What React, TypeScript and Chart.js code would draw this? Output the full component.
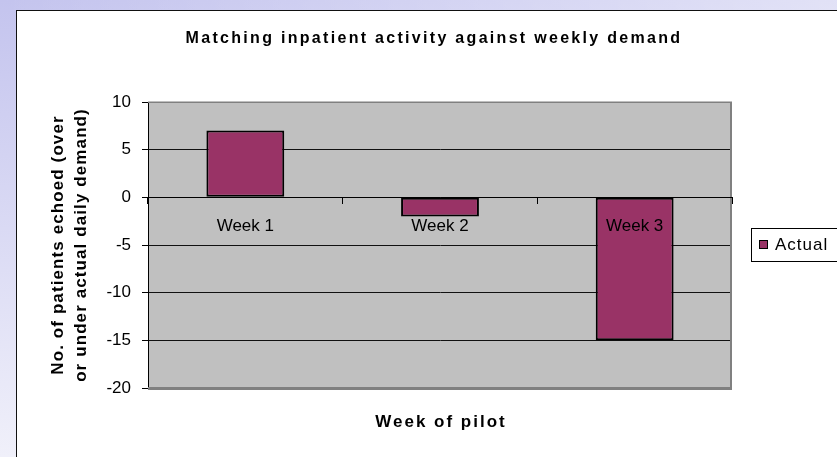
import React, { useEffect, useRef } from 'react';
import { Chart, registerables } from 'chart.js';

Chart.register(...registerables);

const categories = ['Week 1', 'Week 2', 'Week 3'];
const actualValues = [7, -2, -15];
const seriesLabel = 'Actual';
const yTickValues = [10, 5, 0, -5, -10, -15, -20];
const chartTitle = 'Matching inpatient activity against weekly demand';
const xAxisTitle = 'Week of pilot';
const yAxisTitle = ['No. of patients echoed (over', 'or under actual daily demand)'];

const FONT = 'Arial, "Liberation Sans", sans-serif';
const BAR_COLOR = '#993366';

const excelPlugin = {
  id: 'excelLook',
  beforeDraw(chart: any) {
    const { ctx, chartArea: a } = chart;
    ctx.save();
    ctx.fillStyle = '#C0C0C0';
    ctx.fillRect(a.left, a.top, a.right - a.left, a.bottom - a.top);
    ctx.restore();
  },
  beforeDatasetsDraw(chart: any) {
    const { ctx, chartArea: a } = chart;
    ctx.save();
    ctx.fillStyle = '#808080';
    ctx.fillRect(a.right - 2, a.top, 2, a.bottom - a.top);
    ctx.fillRect(a.left, a.bottom - 1, a.right - a.left, 3);
    ctx.fillRect(a.left, a.top - 0.5, a.right - a.left, 1.5);
    ctx.restore();
  },
  afterDraw(chart: any) {
    const { ctx, chartArea: a } = chart;
    ctx.save();
    ctx.fillStyle = '#000';
    // main title
    ctx.font = `bold 16px ${FONT}`;
    (ctx as any).letterSpacing = '2.3px';
    ctx.textAlign = 'center';
    ctx.textBaseline = 'alphabetic';
    ctx.fillText(chartTitle, 434, 43);
    // x axis title
    (ctx as any).letterSpacing = '2px';
    ctx.font = `bold 17px ${FONT}`;
    ctx.fillText(xAxisTitle, (a.left + a.right) / 2 + 1, 427);
    // y axis title
    (ctx as any).letterSpacing = '1.1px';
    ctx.textBaseline = 'middle';
    const cy = (a.top + a.bottom) / 2;
    const xs = [58, 81];
    yAxisTitle.forEach((line, i) => {
      ctx.save();
      ctx.translate(xs[i], cy);
      ctx.rotate(-Math.PI / 2);
      ctx.fillText(line, 0, 0);
      ctx.restore();
    });
    // legend
    (ctx as any).letterSpacing = '1px';
    ctx.lineWidth = 1;
    ctx.strokeStyle = '#000';
    ctx.fillStyle = '#fff';
    ctx.fillRect(751.5, 228.5, 100, 33);
    ctx.strokeRect(751.5, 228.5, 100, 33);
    const ds = chart.data.datasets[0];
    ctx.fillStyle = ds.backgroundColor;
    ctx.fillRect(759.5, 240.5, 8, 8);
    ctx.strokeRect(759.5, 240.5, 8, 8);
    ctx.fillStyle = '#000';
    ctx.font = `17px ${FONT}`;
    ctx.textAlign = 'left';
    ctx.textBaseline = 'middle';
    ctx.fillText(ds.label, 775, 245);
    ctx.restore();
  },
};

export default function App() {
  const canvasRef = useRef<HTMLCanvasElement | null>(null);

  useEffect(() => {
    const canvas = canvasRef.current;
    if (!canvas) return;
    const chart = new Chart(canvas, {
      type: 'bar',
      data: {
        labels: categories,
        datasets: [
          {
            label: seriesLabel,
            data: actualValues,
            backgroundColor: BAR_COLOR,
            borderColor: '#000',
            borderWidth: 2,
            borderSkipped: false,
            barPercentage: 0.4,
            categoryPercentage: 1,
          },
        ],
      },
      options: {
        responsive: false,
        maintainAspectRatio: false,
        animation: false,
        devicePixelRatio: 1,
        events: [],
        layout: { padding: { top: 102, bottom: 69, left: 0, right: 105 } },
        plugins: {
          legend: { display: false },
          title: { display: false },
          tooltip: { enabled: false },
        },
        scales: {
          x: {
            position: { y: 0 } as any,
            offset: true,
            grid: {
              offset: true,
              drawOnChartArea: false,
              drawTicks: true,
              tickLength: 6,
              tickColor: '#000',
              lineWidth: 1,
              z: 1,
            },
            border: { display: true, color: '#000', width: 1, z: 1 },
            ticks: {
              color: '#000',
              font: { family: FONT, size: 17 },
              padding: 13,
              maxRotation: 0,
              autoSkip: false,
              z: 2,
            },
          },
          y: {
            min: -20,
            max: 10,
            afterBuildTicks: (s: any) => {
              s.ticks = yTickValues.map((v) => ({ value: v }));
            },
            afterFit: (s: any) => {
              s.width = 148;
            },
            ticks: {
              color: '#000',
              font: { family: FONT, size: 17 },
              padding: 11,
            },
            grid: {
              color: (c: any) =>
                c.tick && (c.tick.value === 10 || c.tick.value === -20) ? '#808080' : '#111',
              tickColor: '#000',
              tickLength: 6,
              lineWidth: 1,
            },
            border: { display: true, color: '#000', width: 1 },
          },
        },
      },
      plugins: [excelPlugin],
    });
    return () => chart.destroy();
  }, []);

  return (
    <div
      style={{
        position: 'fixed',
        left: 0,
        top: 0,
        width: 837,
        height: 457,
        overflow: 'hidden',
        background:
          'linear-gradient(to right, rgba(255,255,255,0) 0%, rgba(255,255,255,0.5) 100%), linear-gradient(to bottom, #C4C4EE 0%, #F0F0FA 100%)',
      }}
    >
      <div
        style={{
          position: 'absolute',
          left: 16,
          top: 10,
          width: 900,
          height: 500,
          background: '#fff',
          border: '1px solid #111',
        }}
      />
      <canvas
        ref={canvasRef}
        width={837}
        height={457}
        style={{ position: 'absolute', left: 0, top: 0, width: 837, height: 457 }}
      />
    </div>
  );
}
